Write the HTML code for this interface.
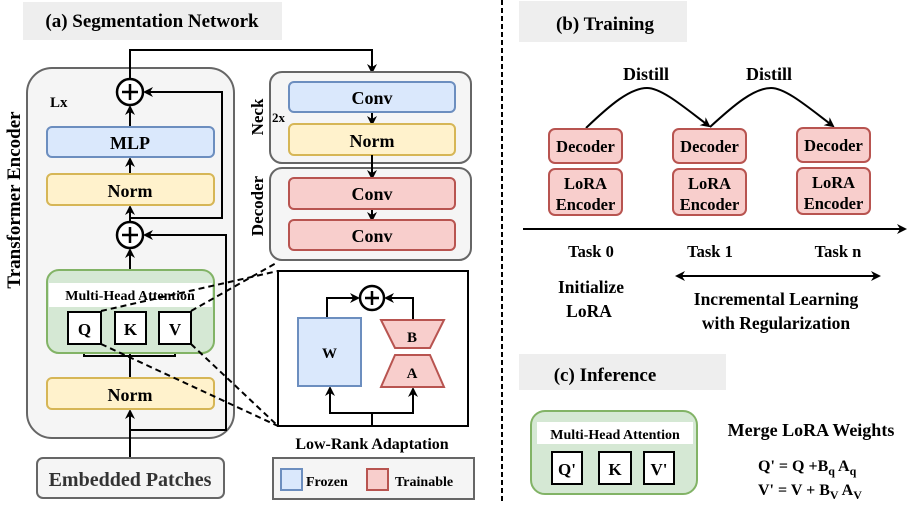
<!DOCTYPE html>
<html><head><meta charset="utf-8"><style>
html,body{margin:0;padding:0;background:#fff;}
svg{display:block;}
text{font-family:"Liberation Serif",serif;font-weight:bold;fill:#000;}
</style></head><body>
<svg width="918" height="510" viewBox="0 0 918 510" xmlns="http://www.w3.org/2000/svg">
<defs>
<marker id="ar" markerWidth="10" markerHeight="10" refX="8" refY="5" orient="auto" markerUnits="userSpaceOnUse"><path d="M0,0 L10,5 L0,10 L3,5 Z" fill="#000"/></marker>
<marker id="ars" markerWidth="10" markerHeight="10" refX="2" refY="5" orient="auto" markerUnits="userSpaceOnUse"><path d="M10,0 L0,5 L10,10 L7,5 Z" fill="#000"/></marker>
</defs>

<rect x="23" y="2" width="259" height="38" fill="#eeeeee"/>
<text x="152" y="27" font-size="19" text-anchor="middle">(a) Segmentation Network</text>

<rect x="27" y="68" width="207" height="370" rx="25" fill="#f5f5f5" stroke="#666" stroke-width="2"/>
<text transform="translate(20,200) rotate(-90)" font-size="19" text-anchor="middle">Transformer Encoder</text>
<text x="50" y="107" font-size="15">Lx</text>

<polyline points="130,218 222,218 222,92 145,92" fill="none" stroke="#000" stroke-width="2" marker-end="url(#ar)"/>
<polyline points="130,430 226,430 226,235 145,235" fill="none" stroke="#000" stroke-width="2" marker-end="url(#ar)"/>
<line x1="130" y1="458" x2="130" y2="411" stroke="#000" stroke-width="2" marker-end="url(#ar)"/>
<line x1="130" y1="378" x2="130" y2="346" stroke="#000" stroke-width="2" marker-end="url(#ar)"/>
<polyline points="84,346 84,356 175,356 175,346" fill="none" stroke="#000" stroke-width="2"/>
<line x1="84" y1="356" x2="84" y2="346" stroke="#000" stroke-width="2" marker-end="url(#ar)"/>
<line x1="175" y1="356" x2="175" y2="346" stroke="#000" stroke-width="2" marker-end="url(#ar)"/>
<line x1="130" y1="270" x2="130" y2="250" stroke="#000" stroke-width="2" marker-end="url(#ar)"/>
<line x1="130" y1="222" x2="130" y2="207" stroke="#000" stroke-width="2" marker-end="url(#ar)"/>
<line x1="130" y1="174" x2="130" y2="159" stroke="#000" stroke-width="2" marker-end="url(#ar)"/>
<line x1="130" y1="127" x2="130" y2="107" stroke="#000" stroke-width="2" marker-end="url(#ar)"/>
<polyline points="130,79 130,50 372,50 372,72" fill="none" stroke="#000" stroke-width="2" marker-end="url(#ar)"/>

<circle cx="130" cy="92" r="13" fill="#fff" stroke="#000" stroke-width="2.5"/>
<path d="M122,92 H138 M130,84 V100" stroke="#000" stroke-width="2.5"/>
<circle cx="130" cy="235" r="13" fill="#fff" stroke="#000" stroke-width="2.5"/>
<path d="M122,235 H138 M130,227 V243" stroke="#000" stroke-width="2.5"/>

<rect x="47" y="127" width="167" height="30" rx="5" fill="#dae8fc" stroke="#6c8ebf" stroke-width="2"/>
<text x="130" y="149" font-size="18" text-anchor="middle">MLP</text>
<rect x="47" y="174" width="167" height="31" rx="5" fill="#fff2cc" stroke="#d6b656" stroke-width="2"/>
<text x="130" y="197" font-size="18" text-anchor="middle">Norm</text>

<rect x="47" y="270" width="167" height="83" rx="12" fill="#d5e8d4" stroke="#82b366" stroke-width="2"/>
<rect x="49" y="283" width="163" height="24" fill="#fff"/>
<text x="130" y="300" font-size="14" text-anchor="middle">Multi-Head Attention</text>
<rect x="68" y="312" width="33" height="32" fill="#fff" stroke="#000" stroke-width="2"/>
<text x="84.5" y="335" font-size="17" text-anchor="middle">Q</text>
<rect x="115" y="312" width="31" height="32" fill="#fff" stroke="#000" stroke-width="2"/>
<text x="130.5" y="335" font-size="17" text-anchor="middle">K</text>
<rect x="159" y="312" width="32" height="32" fill="#fff" stroke="#000" stroke-width="2"/>
<text x="175" y="335" font-size="17" text-anchor="middle">V</text>

<rect x="47" y="378" width="167" height="31" rx="5" fill="#fff2cc" stroke="#d6b656" stroke-width="2"/>
<text x="130" y="401" font-size="18" text-anchor="middle">Norm</text>

<rect x="37" y="458" width="187" height="40" rx="6" fill="#f5f5f5" stroke="#666" stroke-width="2"/>
<text x="130" y="486" font-size="20" text-anchor="middle" style="fill:#333">Embedded Patches</text>

<g stroke="#000" stroke-width="2" stroke-dasharray="6,4" fill="none">
<line x1="101" y1="311" x2="278" y2="271"/>
<line x1="191" y1="311" x2="278" y2="262"/>
<line x1="101" y1="344" x2="278" y2="426"/>
<line x1="191" y1="344" x2="278" y2="426"/>
</g>

<rect x="270" y="72" width="201" height="91" rx="12" fill="#f5f5f5" stroke="#666" stroke-width="2"/>
<text transform="translate(263,117) rotate(-90)" font-size="17" text-anchor="middle">Neck</text>
<text x="272" y="122" font-size="13">2x</text>
<line x1="372" y1="112" x2="372" y2="124" stroke="#000" stroke-width="2" marker-end="url(#ar)"/>
<rect x="289" y="82" width="166" height="30" rx="5" fill="#dae8fc" stroke="#6c8ebf" stroke-width="2"/>
<text x="372" y="104" font-size="18" text-anchor="middle">Conv</text>
<rect x="289" y="124" width="166" height="31" rx="5" fill="#fff2cc" stroke="#d6b656" stroke-width="2"/>
<text x="372" y="147" font-size="18" text-anchor="middle">Norm</text>
<rect x="270" y="168" width="201" height="92" rx="12" fill="#f5f5f5" stroke="#666" stroke-width="2"/>
<text transform="translate(263,206) rotate(-90)" font-size="17" text-anchor="middle">Decoder</text>
<line x1="372" y1="155" x2="372" y2="178" stroke="#000" stroke-width="2" marker-end="url(#ar)"/>
<line x1="372" y1="209" x2="372" y2="220" stroke="#000" stroke-width="2" marker-end="url(#ar)"/>
<rect x="289" y="178" width="166" height="31" rx="5" fill="#f8cecc" stroke="#b85450" stroke-width="2"/>
<text x="372" y="200" font-size="18" text-anchor="middle">Conv</text>
<rect x="289" y="220" width="166" height="30" rx="5" fill="#f8cecc" stroke="#b85450" stroke-width="2"/>
<text x="372" y="242" font-size="18" text-anchor="middle">Conv</text>

<rect x="278" y="271" width="190" height="155" fill="#fff" stroke="#000" stroke-width="2"/>
<polyline points="327,318 327,298 358,298" fill="none" stroke="#000" stroke-width="2" marker-end="url(#ar)"/>
<polyline points="413,320 413,298 386,298" fill="none" stroke="#000" stroke-width="2" marker-end="url(#ar)"/>
<polyline points="372,426 372,413 330,413 330,388" fill="none" stroke="#000" stroke-width="2" marker-end="url(#ar)"/>
<polyline points="372,413 413,413 413,389" fill="none" stroke="#000" stroke-width="2" marker-end="url(#ar)"/>
<circle cx="372" cy="298" r="12" fill="#fff" stroke="#000" stroke-width="2.5"/>
<path d="M365,298 H379 M372,291 V305" stroke="#000" stroke-width="2.5"/>
<rect x="298" y="318" width="63" height="68" fill="#dae8fc" stroke="#6c8ebf" stroke-width="2"/>
<text x="329.5" y="358" font-size="15" text-anchor="middle">W</text>
<polygon points="381,320 444,320 430,348 395,348" fill="#f8cecc" stroke="#b85450" stroke-width="2"/>
<text x="412" y="342" font-size="15" text-anchor="middle">B</text>
<polygon points="395,355 430,355 444,387 381,387" fill="#f8cecc" stroke="#b85450" stroke-width="2"/>
<text x="412" y="378" font-size="15" text-anchor="middle">A</text>
<text x="372" y="449" font-size="16" text-anchor="middle">Low-Rank Adaptation</text>

<rect x="273" y="458" width="201" height="41" fill="#f5f5f5" stroke="#666" stroke-width="2"/>
<rect x="281" y="469" width="21" height="21" fill="#dae8fc" stroke="#6c8ebf" stroke-width="2"/>
<text x="306" y="486" font-size="14">Frozen</text>
<rect x="367" y="469" width="21" height="21" fill="#f8cecc" stroke="#b85450" stroke-width="2"/>
<text x="395" y="486" font-size="14">Trainable</text>

<line x1="502" y1="0" x2="502" y2="502" stroke="#000" stroke-width="2" stroke-dasharray="5,3"/>

<rect x="519" y="1" width="168" height="41" fill="#eeeeee"/>
<text x="605" y="30" font-size="19" text-anchor="middle">(b) Training</text>
<text x="646" y="80" font-size="18" text-anchor="middle">Distill</text>
<text x="769" y="80" font-size="18" text-anchor="middle">Distill</text>
<path d="M586,128 C610,105 630,88 647,88 C662,88 685,108 709,126" fill="none" stroke="#000" stroke-width="2" marker-end="url(#ar)"/>
<path d="M710,127 C734,105 754,88 771,88 C786,88 809,108 833,126" fill="none" stroke="#000" stroke-width="2" marker-end="url(#ar)"/>
<g stroke="#b85450" stroke-width="2" fill="#f8cecc">
<rect x="549" y="129" width="73" height="34" rx="6"/>
<rect x="549" y="169" width="73" height="46" rx="6"/>
<rect x="673" y="129" width="73" height="34" rx="6"/>
<rect x="673" y="169" width="73" height="46" rx="6"/>
<rect x="797" y="128" width="73" height="34" rx="6"/>
<rect x="797" y="168" width="73" height="46" rx="6"/>
</g>
<g font-size="16.5" text-anchor="middle">
<text x="585.5" y="152">Decoder</text>
<text x="585.5" y="189">LoRA</text><text x="585.5" y="210">Encoder</text>
<text x="709.5" y="152">Decoder</text>
<text x="709.5" y="189">LoRA</text><text x="709.5" y="210">Encoder</text>
<text x="833.5" y="151">Decoder</text>
<text x="833.5" y="188">LoRA</text><text x="833.5" y="209">Encoder</text>
</g>
<line x1="523" y1="229" x2="905" y2="229" stroke="#000" stroke-width="2" marker-end="url(#ar)"/>
<g font-size="16.5" text-anchor="middle">
<text x="591" y="257">Task 0</text>
<text x="710" y="257">Task 1</text>
<text x="838" y="257">Task n</text>
</g>
<g font-size="17.5" text-anchor="middle">
<text x="591" y="293">Initialize</text>
<text x="589" y="317">LoRA</text>
<text x="776" y="305">Incremental Learning</text>
<text x="776" y="329">with Regularization</text>
</g>
<line x1="677" y1="276" x2="879" y2="276" stroke="#000" stroke-width="2" marker-start="url(#ars)" marker-end="url(#ar)"/>

<rect x="519" y="354" width="207" height="36" fill="#eeeeee"/>
<text x="605" y="381" font-size="19" text-anchor="middle">(c) Inference</text>
<rect x="531" y="411" width="166" height="83" rx="14" fill="#d5e8d4" stroke="#82b366" stroke-width="2"/>
<rect x="537" y="422" width="156" height="22" fill="#fff"/>
<text x="615" y="439" font-size="14" text-anchor="middle">Multi-Head Attention</text>
<rect x="552" y="452" width="30" height="32" fill="#fff" stroke="#000" stroke-width="2"/>
<text x="567" y="475" font-size="17" text-anchor="middle">Q'</text>
<rect x="599" y="452" width="32" height="32" fill="#fff" stroke="#000" stroke-width="2"/>
<text x="615" y="475" font-size="17" text-anchor="middle">K</text>
<rect x="644" y="452" width="30" height="32" fill="#fff" stroke="#000" stroke-width="2"/>
<text x="659" y="475" font-size="17" text-anchor="middle">V'</text>
<text x="811" y="436" font-size="18" text-anchor="middle">Merge LoRA Weights</text>
<text x="758" y="471" font-size="16">Q' = Q +B<tspan font-size="12" dy="4">q</tspan><tspan dy="-4"> A</tspan><tspan font-size="12" dy="4">q</tspan></text>
<text x="758" y="495" font-size="16">V' = V + B<tspan font-size="12" dy="4">V</tspan><tspan dy="-4"> A</tspan><tspan font-size="12" dy="4">V</tspan></text>
</svg>
</body></html>
